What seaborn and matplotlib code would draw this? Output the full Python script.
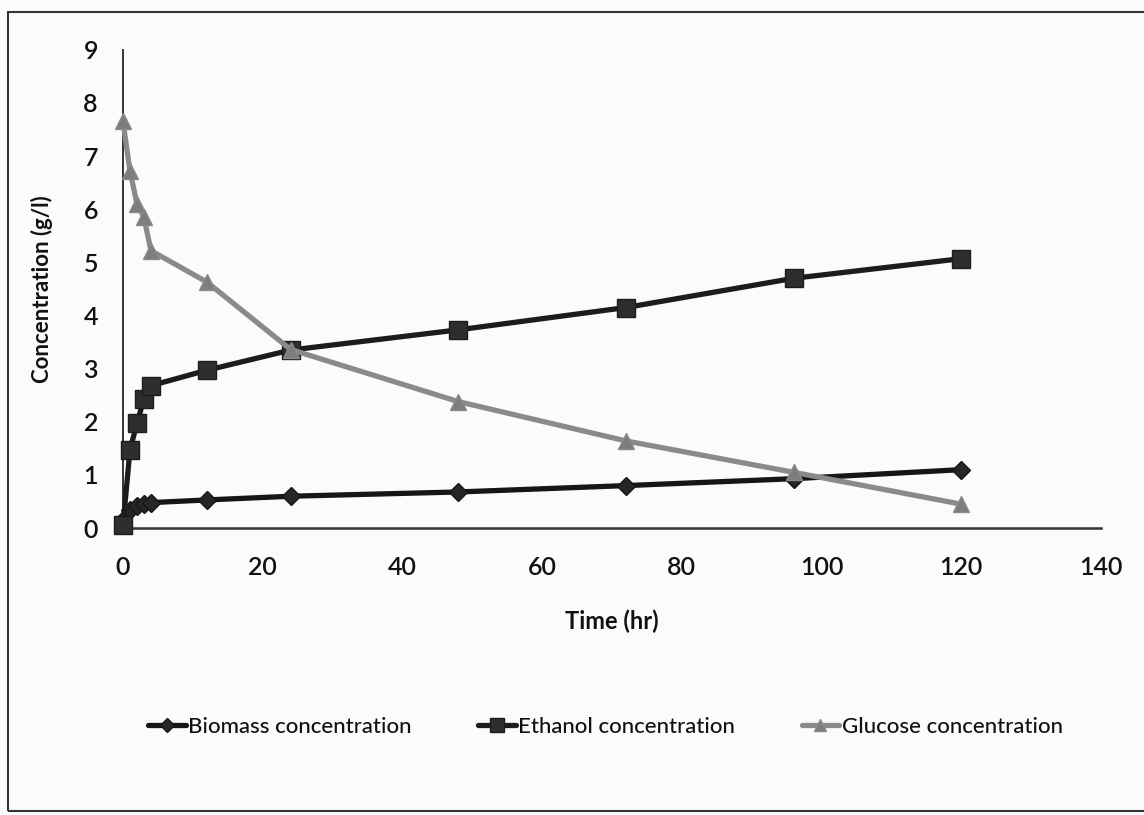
import matplotlib
matplotlib.use("Agg")
import matplotlib.pyplot as plt
from matplotlib.patches import Rectangle
import seaborn as sns
import pandas as pd

# Sampling times (hr)
time_hr = [0, 1, 2, 3, 4, 12, 24, 48, 72, 96, 120]

# Concentrations (g/l)
biomass = [0.15, 0.35, 0.42, 0.45, 0.48, 0.53, 0.60, 0.68, 0.80, 0.93, 1.10]
ethanol = [0.05, 1.47, 1.97, 2.43, 2.68, 2.97, 3.35, 3.73, 4.15, 4.70, 5.07]
glucose = [7.65, 6.72, 6.10, 5.85, 5.22, 4.63, 3.36, 2.38, 1.64, 1.05, 0.45]

series_names = ["Biomass concentration", "Ethanol concentration", "Glucose concentration"]
series_values = [biomass, ethanol, glucose]

x_ticks = [0, 20, 40, 60, 80, 100, 120, 140]
y_ticks = [0, 1, 2, 3, 4, 5, 6, 7, 8, 9]

frames = []
for name, vals in zip(series_names, series_values):
    frames.append(pd.DataFrame({"Time": time_hr, "Concentration": vals, "Series": name}))
df = pd.concat(frames, ignore_index=True)

sns.set_theme(style="white")
plt.rcParams["font.family"] = ["Lato", "DejaVu Sans"]

bg = "#fbfbfc"
fig = plt.figure(figsize=(11.44, 8.15), dpi=100, facecolor=bg)
ax = fig.add_axes([0.1075, 0.352, 0.855, 0.587], facecolor=bg)

palette = {
    "Biomass concentration": "#161616",
    "Ethanol concentration": "#1c1c1c",
    "Glucose concentration": "#8a8a8a",
}
markers = {
    "Biomass concentration": "D",
    "Ethanol concentration": "s",
    "Glucose concentration": "^",
}
msize = {
    "Biomass concentration": 9,
    "Ethanol concentration": 13,
    "Glucose concentration": 12,
}
mface = {
    "Biomass concentration": "#262626",
    "Ethanol concentration": "#2e2e2e",
    "Glucose concentration": "#7d7d7d",
}

for name in series_names:
    sub = df[df["Series"] == name]
    sns.lineplot(
        data=sub, x="Time", y="Concentration", ax=ax,
        color=palette[name], marker=markers[name], markersize=msize[name],
        markerfacecolor=mface[name], markeredgecolor=palette[name],
        markeredgewidth=1.0, linewidth=3.8, label=name, clip_on=False,
        zorder=3 if name != "Glucose concentration" else 4,
    )

ax.set_xlim(0, 140)
ax.set_ylim(0, 9)
ax.set_xticks(x_ticks)
ax.set_yticks(y_ticks)
ax.tick_params(axis="both", which="both", length=0, labelsize=18, colors="#111111")
ax.tick_params(axis="x", pad=20)
ax.tick_params(axis="y", pad=18)
for lbl in ax.get_xticklabels() + ax.get_yticklabels():
    lbl.set_fontweight("semibold")

for side in ["top", "right"]:
    ax.spines[side].set_visible(False)
ax.spines["left"].set_color("#333333")
ax.spines["left"].set_linewidth(1.4)
ax.spines["bottom"].set_color("#333333")
ax.spines["bottom"].set_linewidth(1.8)

ax.set_xlabel("Time (hr)", fontsize=17, fontweight="bold", color="#111111", labelpad=22)
ax.set_ylabel("Concentration (g/l)", fontsize=16, fontweight="bold", color="#111111", labelpad=22)

leg = ax.legend(
    loc="center", bbox_to_anchor=(0.493, -0.416), ncol=3, frameon=False,
    fontsize=16, handlelength=1.7, handletextpad=0.1, columnspacing=3.0,
    markerscale=0.75,
)
for t in leg.get_texts():
    t.set_color("#111111")
    t.set_fontweight("medium")

# Chart border
fig.patches.append(Rectangle((8 / 1144, 4 / 815), 1.2, 799 / 815,
                             transform=fig.transFigure, fill=False,
                             edgecolor="#333333", linewidth=1.5))

fig.savefig("out.png", dpi=100, facecolor=bg)
